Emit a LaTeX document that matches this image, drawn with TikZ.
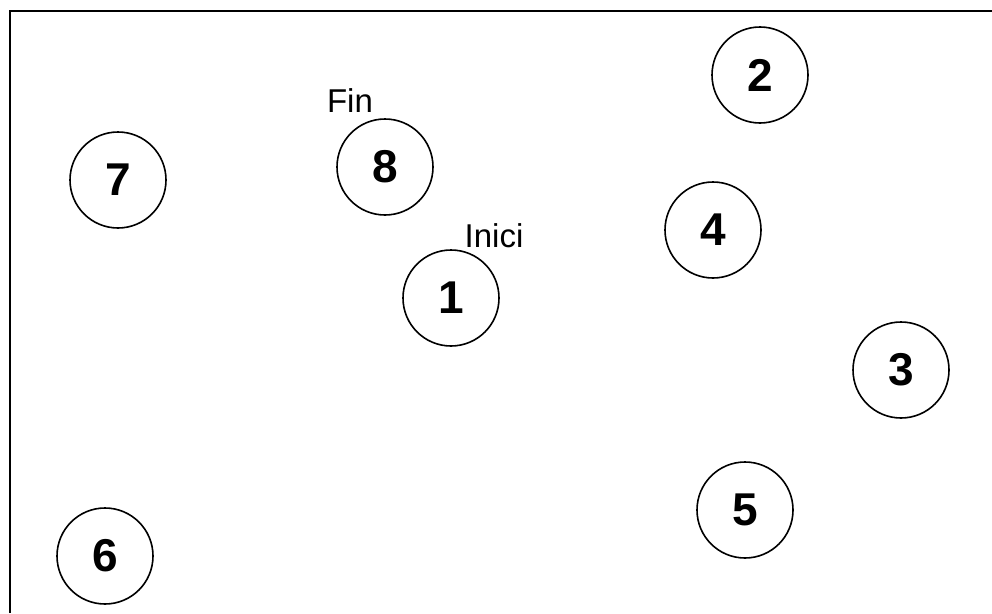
\documentclass[tikz,border=0pt]{standalone}
\usepackage{fontspec}
\setmainfont{Liberation Sans}
\begin{document}
\begin{tikzpicture}[x=1pt,y=-1pt,
  state/.style={circle,draw,line width=1.6pt,minimum size=96pt,inner sep=0pt,font=\fontsize{46}{46}\selectfont\bfseries},
  lbl/.style={font=\fontsize{33}{33}\selectfont,inner sep=0pt}]
\useasboundingbox (0,0) rectangle (992,613);
\draw[line width=1.8pt] (10,613) -- (10,11) -- (992,11);
\node[state] (n2) at (760,75) {2};
\node[state] (n7) at (118,180) {7};
\node[state] (n8) at (385,167) {8};
\node[state] (n4) at (713,230) {4};
\node[state] (n1) at (451,298) {1};
\node[state] (n3) at (901,370) {3};
\node[state] (n5) at (745,510) {5};
\node[state] (n6) at (105,556) {6};
\node[lbl] (fin) at (350,101) {Fin};
\node[lbl] (inici) at (494,236) {Inici};
\end{tikzpicture}
\end{document}
